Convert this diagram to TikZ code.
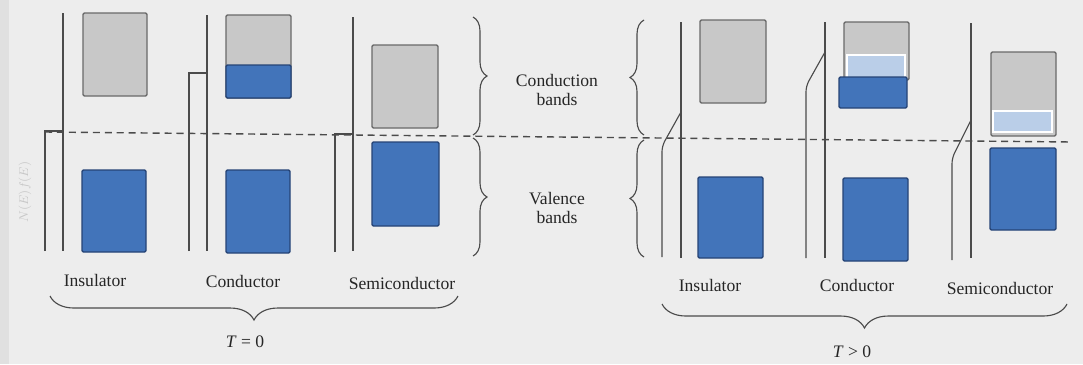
\documentclass[tikz,border=0pt]{standalone}
\usepackage{fontspec}
\setmainfont{Liberation Serif}
\usetikzlibrary{decorations.pathreplacing}
\definecolor{paper}{RGB}{237,237,237}
\definecolor{ink}{RGB}{75,75,75}
\definecolor{cbgray}{RGB}{200,200,200}
\definecolor{cbedge}{RGB}{105,105,105}
\definecolor{vbblue}{RGB}{66,116,186}
\definecolor{vbedge}{RGB}{38,68,118}
\definecolor{exblue}{RGB}{186,206,232}
\tikzset{
    condband/.style={
    rectangle,rounded corners=1pt,fill=cbgray,draw=cbedge,line width=1pt
    },
    valband/.style={
    rectangle,rounded corners=1pt,fill=vbblue,draw=vbedge,line width=1pt
    },
    excited/.style={
    rectangle,fill=exblue,draw=white,line width=1pt
    },
    axisline/.style={
    draw=ink,line width=0.8pt
    },
    fermi/.style={
    draw=ink,line width=0.8pt,rounded corners=4pt
    },
    bandbrace/.style={
    draw=ink,line width=0.8pt,decorate,decoration={brace,amplitude=#1}
    },
    matlabel/.style={
    font=\fontsize{12.5}{14}\selectfont,text=black!85,inner sep=0pt
    },
}

\begin{document}
\begin{tikzpicture}[x=0.025cm, y=-0.025cm]
   \useasboundingbox (0,0) rectangle (1083,364);
   \fill[paper] (0,0) rectangle (1083,364);
   \fill[black!12] (0,0) rectangle (9,364);
   \node[rotate=90,text=black!22,font=\small] (axislab) at (25,192) {$N(E)f(E)$};

   % Fermi level
   \draw[ink,line width=1pt,dash pattern=on 5pt off 3.5pt] (45,132) -- (1072,142);

   % T = 0
   \foreach \ax/\top in {63/13, 207/15, 353/17}
     \draw[axisline] (\ax,\top) -- (\ax,251);
   \draw[fermi,rounded corners=0pt] (45,251) -- (45,131) -- (63,131);
   \draw[fermi,rounded corners=0pt] (189,251) -- (189,73) -- (207,73);
   \draw[fermi,rounded corners=0pt] (335,252) -- (335,134) -- (353,134);

   \draw[condband] (83,13) rectangle (147,96);
   \draw[valband]  (82,170) rectangle (146,252);
   \draw[condband] (226,15) rectangle (291,98);
   \draw[valband]  (226,65) rectangle (291,98);
   \draw[valband]  (226,170) rectangle (290,253);
   \draw[condband] (372,45) rectangle (438,128);
   \draw[valband]  (372,142) rectangle (439,226);

   \node[matlabel] (ins0)  at (95,280)  {Insulator};
   \node[matlabel] (con0)  at (243,281) {Conductor};
   \node[matlabel] (semi0) at (402,283) {Semiconductor};

   % band labels
   \draw[bandbrace=0.35cm] (473,17) -- (473,135);
   \draw[bandbrace=0.35cm] (473,138) -- (473,256);
   \draw[bandbrace=0.35cm] (644,135) -- (644,20);
   \draw[bandbrace=0.35cm] (644,257) -- (644,140);
   \node[matlabel,align=center] (condlab) at (557,90)  {Conduction\\bands};
   \node[matlabel,align=center] (vallab)  at (557,208) {Valence\\bands};

   % T > 0
   \foreach \ax/\top in {681/22, 825/22, 971/23}
     \draw[axisline] (\ax,\top) -- (\ax,258);
   \draw[fermi] (662,257) -- (662,146) -- (681,112);
   \draw[fermi] (806,258) -- (806,86) -- (825,52);
   \draw[fermi] (952,260) -- (952,158) -- (971,120);

   \draw[condband] (700,20) rectangle (766,103);
   \draw[valband]  (698,177) rectangle (763,258);
   \draw[condband] (844,22) rectangle (909,80);
   \draw[excited]  (847,55) rectangle (905,80);
   \draw[valband]  (839,77) rectangle (907,108);
   \draw[valband]  (843,178) rectangle (908,261);
   \draw[condband] (991,52) rectangle (1056,136);
   \draw[excited]  (993,111) rectangle (1052,132);
   \draw[valband]  (990,148) rectangle (1056,230);

   \node[matlabel] (ins1)  at (710,285)  {Insulator};
   \node[matlabel] (con1)  at (857,285)  {Conductor};
   \node[matlabel] (semi1) at (1000,288) {Semiconductor};

   % temperature braces
   \draw[bandbrace=0.6cm] (458,296) -- (50,296);
   \draw[bandbrace=0.6cm] (1067,304) -- (662,304);
   \node[matlabel] (tzero) at (245,342) {\textit{T} = 0};
   \node[matlabel] (tpos)  at (852,352) {\textit{T} > 0};
\end{tikzpicture}
\end{document}
